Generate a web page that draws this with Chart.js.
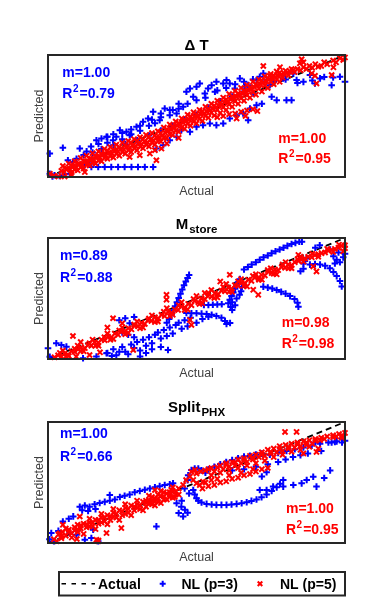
<!DOCTYPE html>
<html>
<head>
<meta charset="utf-8">
<script src="https://cdn.jsdelivr.net/npm/chart.js@4"></script>
<style>
html, body { margin: 0; padding: 0; background: #fff; }
body { width: 382px; height: 610px; position: relative; overflow: hidden; }
canvas { position: absolute; left: 0; }
</style>
</head>
<body>
<canvas id="c1" width="382" height="180" style="top:20px"></canvas>
<canvas id="c2" width="382" height="180" style="top:203px"></canvas>
<canvas id="c3" width="382" height="223" style="top:387px"></canvas>
<script>
// values, axes normalised 0..100 (actual, predicted) as flat x,y pairs
const titles = ['\u0394 T', 'M', 'Split'];
const subs = ['', 'store', 'PHX'];
const blueStats = [['1.00', '0.79'], ['0.89', '0.88'], ['1.00', '0.66']];
const redStats = [['1.00', '0.95'], ['0.98', '0.98'], ['1.00', '0.95']];
const actualLine = [0, 0, 100, 100];

const dtRed = [
  0.6,2.7, 2,1, 3.5,0.5, 4.5,5, 5.5,4, 6.5,7, 7.5,6, 8.5,9, 9.5,8, 10.5,11, 11.5,10, 12.5,13, 13.5,12, 14.5,15, 15.5,14,
  16.5,16.5, 17.5,16, 18.5,18.5, 19.5,18, 20.5,20, 21.5,19.5, 22.5,21.5, 23.5,21, 24.5,23, 25.5,22.5, 26.5,24.5, 27.5,24,
  28.5,26, 29.5,25.5, 30.5,27.5, 31.5,27, 32.5,29, 33.5,28.5, 34.5,30.5, 35.5,30, 36.5,32, 37.5,32.5, 38.5,34, 39.5,36,
  40.5,38, 41.5,39, 42.5,40.5, 43.5,42, 44.5,43, 45.5,44.5, 46.5,46, 47.5,47, 48.5,48, 49.5,49, 50.5,50, 51.5,51.5, 52.5,52,
  53.5,53.5, 54.5,54.5, 55.5,56, 56.5,57, 57.5,58.5, 58.5,59.5, 59.5,61, 60.5,62, 61.5,63.5, 62.5,65, 63.5,66, 64.5,67.5,
  65.5,68.5, 66.5,70, 67.5,71, 68.5,72.5, 69.5,73.5, 70.5,75, 71.5,76, 72.5,77.5, 73.5,78.5, 74.5,80, 75.5,81, 76.5,82,
  77.5,83, 78.5,84, 79.5,85, 80.5,85.5, 81.5,86.5, 82.5,87.5, 84,88.5, 86,90, 88,91, 90,92.5, 93,94, 96,95.5, 98.3,97.3, 99.4,95.9,
  5,9, 7,11, 9,13, 11,15.5, 13,17.5, 15,19.5, 17,21, 19,23, 21,24.5, 23,26.5, 25,28, 27,29.5, 29,31, 31,32.5, 33,34.5, 35,36,
  37,37.5, 39,40.5, 41,43, 43,45.5, 45,48, 47,51, 49,53, 51,55, 53,57.5, 55,60, 57,62.5, 59,65, 61,68, 63,70.5, 65,73,
  67,75.5, 69,78, 71,80, 73,82.5, 75,84.5, 77,86.5,
  8,4, 10,5.5, 12,7, 14,9.5, 16,11, 18,13, 20,15, 22,16, 24,17.5, 26,19, 28,20.5, 30,22, 32,23.5, 34,25, 36,26.5, 38,29,
  40,32, 42,34.5, 44,37, 46,39.5, 48,42, 50,44, 52,46, 54,48.5, 56,50.5, 58,52.5, 60,55, 62,57.5, 64,60, 66,62.5, 68,65,
  70,67.5, 72,70, 74,73, 76,76, 78,78,
  6,6.5, 8,9, 10,10.5, 12,13, 14,15, 16,17, 18,19, 20,21.5, 22,22.5, 24,24.5, 26,26, 28,28, 30,29.5, 32,31, 34,33, 36,34,
  38,36, 40,39, 42,41.5, 44,44, 46,47, 48,49.5, 50,51.5, 52,54, 54,56, 56,58.5, 58,61, 60,63.5, 62,66, 64,68.5, 66,71,
  68,73.5, 70,76, 72,79, 74,81, 76,83, 78,85.5, 80,87, 82,88.5,
  9,6, 11,8, 13,10, 15,11.5, 17,13.5, 19,15.5, 21,17, 23,19, 25,20.5, 27,22, 29,23.5, 31,25, 33,26.5, 35,28, 37,29.5, 39,32,
  41,35, 43,38, 45,40.5, 47,43.5, 49,45.5, 51,47.5, 53,50, 55,52.5, 57,55, 59,57, 61,59.5, 63,62, 65,64.5, 67,67, 69,69.5,
  71,72.5, 73,75, 75,78, 77,80, 79,81.5, 81,83.5, 83,86, 85,87.5, 87,88.5, 89,89.5, 92,91, 94,92.5, 97,94, 100,98,
  57,49, 59,50, 61,51.5, 63,52, 65,53.5, 67,54.5, 69,55.5, 70.5,54, 63.5,48, 66.5,50,
  72.5,91, 78.1,90, 86,94, 84.8,93.2, 85.4,96.5, 90.4,76.7, 88.8,84.9, 91,90.4, 95.5,83.6, 96.1,89.9, 74.7,83, 89.9,83,
  27.5,16.4, 30.9,17.8, 34.3,19.2, 36.5,13.7, 38.2,23.3, 12.4,4, 7.9,2, 5.6,0.5, 36,21.9, 40,27.5, 44,32
];
const dtBlue = [
  0.6,2.7, 1.5,0.5, 2.2,1.4, 3.9,0.8, 5.6,2.2, 7.3,2.7, 0.6,19.2, 5,24, 6.7,13.7, 8.4,12.3, 9.6,15, 10.7,23.3, 12.4,9.6, 14,11,
  14.6,8.2, 16.9,8.2, 19.1,8.2, 21.3,8.2, 23.6,8.2, 25.8,8.2, 28.1,8.2, 30.3,8.2, 32.6,8.2, 35.4,8.2,
  16.3,30.1, 18,31.5, 19.7,32.9, 21.9,30.1, 23,33, 24.2,38.4, 26.4,37, 27.5,34.2, 29.8,41.1, 32,45.2, 33.7,47.9, 35.4,53.4,
  37.6,46.6, 39.3,56.2, 41,50.7, 43.3,52.1, 45.5,57.5, 46.6,69.9, 47.8,72.6, 48.9,65.8, 50,74, 51.1,76.7, 52.8,68.5, 53.9,72.6,
  55.1,75.3, 56.2,69.9, 56.7,78.1, 59,76.7, 60.1,79.5, 61.2,76.7, 62.9,72.6, 64.6,80.8, 66.3,74, 67.4,75.3, 69.1,68.5,
  70.2,79.5, 71.3,82.2, 72.5,84.9, 73.6,79.5, 74.7,75.3, 75.3,65.8, 77,63, 79.2,80.8, 80.3,63, 82,63, 82.6,84.9, 83.7,79.5,
  86,78, 88.2,83.6, 89.9,76.7, 91.6,80.8, 95.5,75.3, 96,81.6, 98.3,82.2, 100,78,
  36.5,23.3, 38.8,26, 41,30.1, 43.3,32.9, 44.9,38.4, 47.8,37, 50,41.1, 52.2,42.5, 54.5,43.8, 56.7,42.5, 59,43.8, 61.2,47.9,
  63.5,50.7, 65.7,52.1, 67.4,46.6, 68,56.2, 70.2,58.9, 72,60,
  12,18, 15,20, 18,23, 22,26, 26,27, 30,30, 34,34, 38,38, 42,42, 46,47, 50,51, 54,57, 58,62, 62,66, 66,70, 76,78, 80,80,
  84,77, 89,79, 93,82, 13,21, 14.5,25, 17,27, 20,28, 25,31, 28,35, 31,38, 34,42, 36,44, 38,49, 42,55, 44,60,
  20,33, 22,35, 25,36, 28,39, 31,42, 35,47, 38,52, 41,55, 44,56, 47,60, 50,63, 53,65, 57,71, 60,73, 63,76, 66,78, 69,80
];

const msRed = [
  2.2,1.4, 3.4,3, 4.5,2, 5.6,4.5, 6.7,3.5, 7.9,6.5, 9,6, 10.1,8, 11.2,9.5, 12.4,9, 13.5,11.5, 14.6,11, 15.7,14, 16.9,13.5,
  18,16, 19.1,15.5, 20.2,18.5, 21.3,18, 22.5,21, 23.6,20, 24.7,23, 25.8,22.5, 27,25.5, 28.1,24.5, 29.2,27.5, 30.3,27,
  31.5,30, 32.6,29, 33.7,32, 34.8,31.5, 36,34.5, 37.1,33.5, 38.2,36.5, 39.3,35.5, 40.4,39, 41.6,38, 42.7,41, 43.8,40.5,
  44.9,43.5, 46.1,42.5, 47.2,45.5, 48.3,44.5, 49.4,48, 50.6,47, 51.7,50, 52.8,49.5, 53.9,52, 55.1,51.5, 56.2,54.5, 57.3,53.5,
  58.4,56.5, 59.6,56, 60.7,59, 61.8,58, 62.9,61, 64,60.5, 65.2,63, 66.3,62.5, 67.4,65.5, 68.5,64.5, 69.7,67.5, 70.8,67,
  71.9,69.5, 73,69, 74.2,72, 75.3,71, 76.4,74, 77.5,73.5, 78.7,76, 79.8,75.5, 80.9,78, 82,77.5, 83.1,80, 84.3,81, 85.4,82.5,
  86.5,83, 87.6,84.5, 88.8,84, 89.9,86, 91,86.5, 92.1,87.5, 93.3,88, 94.4,89.5, 95.5,90, 96.6,91, 97.8,92, 98.9,93.5, 100,94,
  99.4,89, 100,91.5,
  5,7, 10,11, 15,16, 20,21, 25,26, 30,31, 35,36, 40,42, 45,47, 50,52, 55,57, 60,62, 65,66, 70,70, 75,75, 80,80, 85,84.5,
  7,2.5, 12,6.5, 17,11, 22,16.5, 27,21.5, 32,26, 37,31, 42,36.5, 47,41, 52,46, 57,51, 62,55.5, 67,60, 72,65.5, 77,70, 82,75,
  4,5, 9,8.5, 14,13, 19,18, 24,23.5, 29,28.5, 34,33.5, 39,39, 44,44.5, 49,49.5, 54,54.5, 59,59.5, 64,64, 69,68.5, 74,73.5,
  79,78, 84,82.5, 89,87, 94,91, 98,94.5,
  6,2, 11,6.5, 16,11, 21,16, 26,20.5, 31,25.5, 36,30.5, 41,35.5, 46,40.5, 51,45.5, 56,50.5, 61,55.5, 66,60.5, 71,65.5,
  76,70.5, 81,75, 86,80.5, 91,84.5, 96,88.5,
  8.4,19, 21.9,33.7, 39.9,53, 39.9,49, 61.2,69.6, 47.8,32.3, 48.3,28.2, 69.1,57.2, 70.8,53, 89.3,76.5, 90.4,72.4, 28.7,7.5,
  14,3.3, 84.3,86, 20,26, 11,14, 17.5,5.5, 9.5,2, 25,29.5, 58,64, 52.8,54.5
];
const msBlue = [
  66,74, 67.3,76, 68.6,78, 70,80, 71.3,82, 72.6,84, 74,85.5, 75.3,87.5, 76.6,89, 78,90.5, 79.3,92, 80.6,93.5, 82,95, 83.3,96,
  84.6,97, 85.5,97,
  40,30, 40.8,33, 41.6,36.5, 42.2,40, 42.8,43.5, 43.4,47, 44,50.5, 44.6,54, 45.2,57.5, 45.8,61, 46.4,64, 47,67, 47.5,69.5,
  46.6,38, 48.3,37.8, 50,37.8, 51.7,37.5, 53.4,37.2, 55.1,36.5, 56.7,35.5, 58.4,34, 59.6,31.5, 60.1,29,
  52.5,44.6, 54,44.6, 55.5,44.8, 57,45, 58.5,45.2,
  60.7,46, 61.2,49, 61.8,52, 62.4,55, 63,58, 63.5,61, 64,63.5, 64.6,66, 62,47, 63.5,50, 64.5,53, 65,56, 61.5,43, 63,44.5,
  65.3,59.5, 61.3,29.8, 62,40.5,
  72.5,59.8, 74,59, 75.5,58.2, 77,57, 78.5,55.5, 80,54, 81.5,52, 83,49.5, 84,46.5, 84.3,43.2,
  88.2,78, 89.9,78.5, 91.6,78, 93.3,77, 94.9,75, 96.1,72, 97.2,68.5, 98.3,64.5, 98.9,60,
  96.1,85, 97.2,82, 98.3,80, 99.4,84, 100,87, 96.6,79, 97.8,88, 86,79, 86.5,81, 87,83, 90,92, 91.5,94, 95,90.5, 85,72.5, 86,74.5,
  0,8.8, 0.6,1.9, 2.8,13, 4.5,11.6, 6.2,10.2, 11.8,0.6, 16.3,2, 19.7,4.7,
  20,5, 21.5,2.5, 22,8, 23,3, 24,6, 25,10, 26,6, 27,4, 28,12, 29,9, 30,14, 31,7, 32,16, 33,11, 34,18, 35,13, 36,20, 37,22,
  38,17, 39,24, 40,19, 41,26, 42,21, 43,28, 44,30, 45,25, 46,32, 47,27, 48,34, 50,30, 52,33, 54,35, 29,18, 27,20, 25,22,
  31,2, 33,5, 35,8, 38,10, 40.4,7.4, 24,32, 26,33.7, 27.5,29.6, 29,34.7
];

const spRed = [
  2,3, 3.5,7, 4.5,4, 5,9, 6,6, 7,11, 8,8, 9,13, 10,9, 11,12, 12,16, 13,13, 14,17, 15,14, 16,19, 17,16, 18,21, 19,18, 20,23,
  21,19, 22,25, 23,21, 24,27, 25,23, 26,29, 27,25, 28,31, 29,27, 30,32, 31,28, 32,34, 33,30, 34,35, 35,32, 36,37, 37,34,
  38,39, 39,36, 40,41, 41,38, 42,43, 43,40, 44,45, 41.5,44, 39,42, 37,40, 35,38, 33,35,
  6,12, 10,15, 14,20, 18,24, 22,28, 26,32, 30,35, 34,39, 38,43, 42,46, 8,4.5, 12,7.5, 16,11.5, 20,15.5, 24,19, 28,23, 32,27, 36,31,
  4,8, 7,9, 9,10.5, 11,14.5, 13,15.5, 15,17, 17,19, 19,21, 21,22, 23,24, 25,26, 27,28, 29,30, 31,31, 33,33, 35,35,
  37,36.5, 39,38.5, 41,40, 43,42.5, 44,40, 42,37.5, 40,36, 38,33, 36,34.5, 34,32.5, 30,29, 26,24, 22,21.5, 18,17, 14,13.5, 10,11,
  5,15, 10.7,21.9, 16.3,2.7, 16.9,1.4, 4.5,5.5, 24.7,12.3, 36,43.8, 19.7,8.2, 17,2, 9.7,3.3, 3,1.5,
  47.8,54.8, 48.9,52.1, 50,49.3, 51.1,47.9, 52.2,50.7, 48.3,58.9, 50,57.5, 46.5,52, 45.5,48, 49.5,60.5, 51.5,59,
  53,60, 55,62, 56,59, 58,64, 59,61, 60,66, 61,63, 62,67, 63,64, 64,69, 65,66, 66,70, 67,67, 68,72, 69,69, 70,73, 71,71,
  72,75, 73,72, 74,77, 75,74, 76,78, 77,75, 78,80, 79,76, 80,81, 81,78, 82,82, 83,79, 84,83, 85,80, 86,84, 87,81, 88,85,
  89,82, 90,86, 92,87, 94,88, 96,89, 98,90, 100,91, 97,88, 99,87,
  54,61, 57,62.5, 60,64.5, 63,66.5, 66,68, 69,70.5, 72,73, 75,75.5, 78,77.5, 81,79.5, 84,81.5, 87,83, 90,84.5, 93,86, 96,87.5, 99,89,
  55,56, 58,58, 61,60, 64,62, 67,64, 70,66, 73,68, 76,71, 79,73, 82,75.5, 85,77, 88,79.5,
  52,45, 54,47, 56,48, 58,50, 60,51, 62,53, 64,54, 66,56, 68,57, 70,59, 72,61, 74,62, 57,53, 61,56, 65,58, 69,61, 53,50, 55,52,
  79.8,91.8, 83.7,91.8, 90.4,75.3, 91,78, 86,74, 91.6,85, 41,42, 42.7,38
];
const spBlue = [
  1.1,8.2, 5,17.8, 0.5,3, 2,1.5,
  10.7,30, 12.4,31, 14,30, 15.7,32, 17.4,33, 19.1,34, 20.8,35, 22.5,36, 24.2,38, 25.8,39, 27.5,40, 29.2,42, 30.9,43, 32.6,44,
  34.3,45, 36,46, 37.6,47, 39.3,47.9, 41,48.5, 42.1,49.3, 20.8,39.7, 11.5,27, 13.5,26.5, 16,28, 8.5,22, 7,20,
  7.3,8.2, 9.6,6.8, 12.4,2.7, 14.6,4.1, 16.9,1.4, 36.5,13.7, 15.2,11, 3.5,10,
  43.3,32.9, 44.9,30, 46.1,27.4, 45,35, 47,25, 44,24.7, 45.5,22, 48.3,60.3, 49.4,61.6, 50.6,61.6, 51.7,60, 53,58, 47.2,56,
  47,52, 46,45, 47.5,41,
  48.9,43.8, 49.4,40, 50,37, 50.6,35, 51.7,33.5, 53.4,32.3, 55.1,31.8, 56.7,31.5, 58.4,31.5, 60.1,31.5, 61.8,31.8, 63.5,32.3,
  65.2,32.9, 66.9,33.7, 68.5,34.8, 70.2,36, 71.9,37.8, 73.6,40, 75.3,43, 77,46, 78.1,49, 79.2,52,
  71.3,43.8, 73.6,43.8, 75.8,46.6, 79.2,46.6, 82.6,47.9, 85.4,49.3, 87.1,52.1, 89.3,54.8, 90.4,46.6, 93,53.7, 95,60, 72,55, 73.6,58.5,
  54,61, 56,63, 58,65, 60,67, 62,68.5, 64,70, 66,71.5, 68,72, 70,73, 72,74, 74.7,73, 77.5,74.5, 80.3,76, 83.1,77.5, 86,79,
  88.8,80.5, 91.6,82, 94.4,83, 97.2,84, 100,84.5, 99,86.3, 96.6,83.6, 78.7,75, 90,83, 95.5,83, 99,83,
  77.5,67, 80,69, 82.5,71, 85,72.5, 87.5,74, 92,76, 74,65, 70,63, 66,61, 62,60
];

const FONT = '"Liberation Sans", Arial, sans-serif';

function pts(flat) {
  const out = [];
  for (let i = 0; i < flat.length; i += 2) out.push({x: flat[i], y: flat[i + 1]});
  return out;
}

function drawStat(ctx, s, color, x, y1, y2) {
  ctx.fillStyle = color;
  ctx.textAlign = 'left';
  ctx.font = 'bold 14px ' + FONT;
  ctx.fillText('m=' + s[0], x, y1);
  ctx.fillText('R', x, y2);
  let w = ctx.measureText('R').width;
  ctx.font = 'bold 10px ' + FONT;
  ctx.fillText('2', x + w + 0.5, y2 - 6);
  w += ctx.measureText('2').width + 1.5;
  ctx.font = 'bold 14px ' + FONT;
  ctx.fillText('=' + s[1], x + w, y2);
}

const decor = {
  id: 'decor',
  afterDatasetsDraw(chart, args, o) {
    const ctx = chart.ctx, a = chart.chartArea;
    const cx = (a.left + a.right) / 2;
    ctx.save();
    ctx.strokeStyle = '#262626';
    ctx.lineWidth = 2;
    ctx.strokeRect(a.left, a.top, a.right - a.left, a.bottom - a.top);

    // title with optional subscript
    ctx.fillStyle = '#000';
    ctx.textBaseline = 'alphabetic';
    ctx.textAlign = 'left';
    ctx.font = 'bold 15px ' + FONT;
    const mw = ctx.measureText(o.title).width;
    ctx.font = 'bold 11.5px ' + FONT;
    const sw = o.sub ? ctx.measureText(o.sub).width + 1 : 0;
    const tx = cx - (mw + sw) / 2, ty = a.top - o.titleGap;
    ctx.font = 'bold 15px ' + FONT;
    ctx.fillText(o.title, tx, ty);
    if (o.sub) {
      ctx.font = 'bold 11.5px ' + FONT;
      ctx.fillText(o.sub, tx + mw + 1, ty + 4);
    }

    // axis titles
    ctx.fillStyle = '#404040';
    ctx.font = '12.5px ' + FONT;
    ctx.textAlign = 'center';
    ctx.fillText('Actual', cx, a.bottom + 17.5);
    ctx.save();
    ctx.translate(43, (a.top + a.bottom) / 2);
    ctx.rotate(-Math.PI / 2);
    ctx.fillText('Predicted', 0, 0);
    ctx.restore();

    drawStat(ctx, o.blueStat, '#0000ff', a.left + o.bluePos[0], a.top + o.bluePos[1], a.top + o.bluePos[2]);
    drawStat(ctx, o.redStat, '#ff0000', a.left + o.redPos[0], a.top + o.redPos[1], a.top + o.redPos[2]);

    if (o.legend) {
      const L = o.legend;
      ctx.strokeStyle = '#262626';
      ctx.lineWidth = 2;
      ctx.strokeRect(L.x, L.y, L.w, L.h);
      const my = L.y + L.h / 2;
      ctx.strokeStyle = '#000';
      ctx.lineWidth = 1.6;
      ctx.setLineDash([4.5, 5.5]);
      ctx.beginPath(); ctx.moveTo(L.x + 2.5, my); ctx.lineTo(L.x + 36, my); ctx.stroke();
      ctx.setLineDash([]);
      ctx.lineWidth = 2;
      ctx.strokeStyle = '#0000ff';
      ctx.beginPath();
      ctx.moveTo(L.x + 103.7 - 3, my); ctx.lineTo(L.x + 103.7 + 3, my);
      ctx.moveTo(L.x + 103.7, my - 3); ctx.lineTo(L.x + 103.7, my + 3);
      ctx.stroke();
      ctx.strokeStyle = '#ff0000';
      ctx.beginPath();
      ctx.moveTo(L.x + 201 - 2.3, my - 2.3); ctx.lineTo(L.x + 201 + 2.3, my + 2.3);
      ctx.moveTo(L.x + 201 - 2.3, my + 2.3); ctx.lineTo(L.x + 201 + 2.3, my - 2.3);
      ctx.stroke();
      ctx.fillStyle = '#000';
      ctx.textAlign = 'left';
      ctx.font = 'bold 14px ' + FONT;
      ctx.fillText('Actual', L.x + 39, my + 5.3);
      ctx.fillText('NL (p=3)', L.x + 122.5, my + 5.3);
      ctx.fillText('NL (p=5)', L.x + 221, my + 5.3);
    }
    ctx.restore();
  }
};

const panels = [
  {id: 'c1', blue: dtBlue, red: dtRed, padTop: 35, padBottom: 23, titleGap: 5,
   bluePos: [14.3, 21.7, 43.3], redPos: [230.3, 87.7, 108.3]},
  {id: 'c2', blue: msBlue, red: msRed, padTop: 35, padBottom: 24, titleGap: 9,
   bluePos: [12, 22, 43.7], redPos: [233.7, 88.7, 110.3]},
  {id: 'c3', blue: spBlue, red: spRed, padTop: 35, padBottom: 67, titleGap: 10.3,
   bluePos: [12, 16.3, 38.7], redPos: [238, 91.3, 112],
   legend: {x: 59, y: 185, w: 286, h: 23.5}}
];

panels.forEach(function (p, i) {
  new Chart(document.getElementById(p.id), {
    type: 'scatter',
    data: {
      datasets: [
        {label: 'Actual', data: pts(actualLine), showLine: true, borderColor: '#000', borderWidth: 1.8,
         borderDash: [6, 4], pointRadius: 0, order: 3},
        {label: 'NL (p=3)', data: pts(p.blue), pointStyle: 'cross', pointRadius: 3.3,
         borderColor: '#0000ff', borderWidth: 2, clip: false, order: 2},
        {label: 'NL (p=5)', data: pts(p.red), pointStyle: 'crossRot', pointRadius: 3.6,
         borderColor: '#ff0000', borderWidth: 2, clip: false, order: 1}
      ]
    },
    options: {
      responsive: false,
      animation: false,
      events: [],
      layout: {padding: {left: 48, right: 37, top: p.padTop, bottom: p.padBottom}},
      scales: {
        x: {type: 'linear', min: 0, max: 100, display: false},
        y: {type: 'linear', min: 0, max: 100, display: false}
      },
      plugins: {
        legend: {display: false},
        tooltip: {enabled: false},
        decor: {
          title: titles[i], sub: subs[i], titleGap: p.titleGap,
          blueStat: blueStats[i], redStat: redStats[i],
          bluePos: p.bluePos, redPos: p.redPos, legend: p.legend
        }
      }
    },
    plugins: [decor]
  });
});
</script>
</body>
</html>
